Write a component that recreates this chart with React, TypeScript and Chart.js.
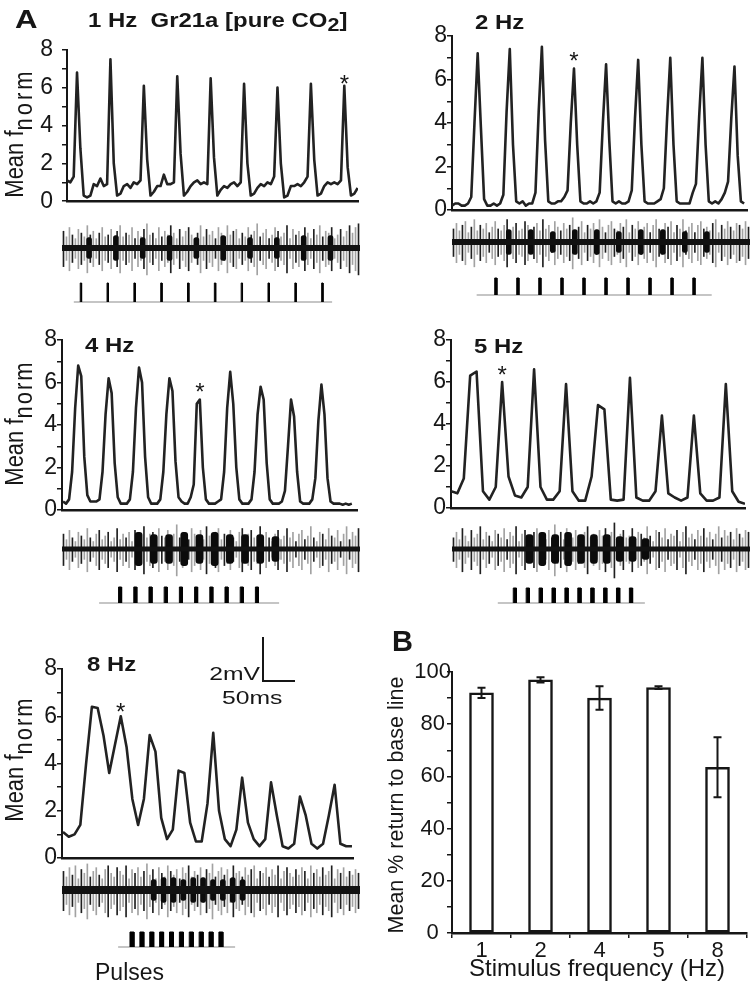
import React, { useEffect, useRef } from "react";
import { Chart, registerables } from "chart.js";

Chart.register(...registerables);

const FONT = "'Liberation Sans', Arial, Helvetica, sans-serif";
const INK = "#161616";

// ---------------- Panel A: mean f_norm traces (one value per bin) ----------------
const fnorm1Hz = [
  1.1, 1.0, 1.3, 6.8, 2.8, 0.3, 0.2, 0.3, 0.9, 0.8,
  1.2, 0.8, 0.9, 7.5, 2.0, 0.3, 0.4, 0.8, 0.9, 0.7,
  1.0, 0.9, 1.1, 6.1, 2.2, 0.3, 0.5, 0.8, 0.8, 1.4,
  0.9, 0.9, 1.0, 6.6, 2.5, 0.3, 0.5, 0.8, 1.0, 1.1,
  0.9, 1.0, 0.9, 6.5, 2.3, 0.3, 0.6, 0.8, 0.7, 0.9,
  1.0, 0.8, 1.0, 6.2, 2.0, 0.3, 0.4, 0.7, 0.9, 0.8,
  1.0, 0.9, 1.3, 6.0, 2.0, 0.2, 0.3, 0.8, 0.8, 0.9,
  0.8, 1.0, 1.3, 6.2, 2.2, 0.3, 0.4, 0.8, 1.0, 0.9,
  1.0, 0.9, 1.1, 6.1, 1.8, 0.3, 0.4, 0.7,
];
const fnorm2Hz = [
  0.2, 0.3, 0.3, 0.2, 0.2, 0.3, 0.6, 4.0, 7.2, 3.8,
  0.5, 0.2, 0.2, 0.3, 0.2, 0.3, 0.7, 4.5, 7.4, 3.0,
  0.4, 0.3, 0.4, 0.2, 0.3, 0.3, 0.8, 4.5, 7.5, 3.2,
  0.4, 0.3, 0.3, 0.4, 0.4, 0.6, 0.9, 4.0, 6.5, 3.0,
  0.4, 0.3, 0.3, 0.4, 0.3, 0.4, 0.8, 4.0, 6.7, 3.2,
  0.4, 0.3, 0.4, 0.3, 0.3, 0.4, 0.9, 4.2, 6.9, 3.0,
  0.4, 0.3, 0.3, 0.3, 0.4, 0.5, 1.0, 4.2, 7.0, 3.0,
  0.4, 0.3, 0.3, 0.3, 0.3, 0.8, 1.2, 4.3, 7.0, 3.0,
  0.4, 0.3, 0.4, 0.3, 0.5, 0.8, 1.3, 4.2, 6.6, 2.5,
  0.4, 0.3,
];
const fnorm4Hz = [
  0.4, 0.3, 0.5, 1.8, 4.8, 6.8, 6.3, 2.5, 0.7, 0.4,
  0.4, 0.4, 0.5, 1.8, 4.5, 6.2, 5.5, 2.2, 0.6, 0.3,
  0.3, 0.3, 0.5, 1.8, 4.8, 6.7, 6.0, 2.5, 0.6, 0.3,
  0.3, 0.3, 0.5, 1.8, 4.5, 6.2, 5.6, 2.3, 0.6, 0.4,
  0.3, 0.3, 0.6, 1.2, 5.0, 5.2, 2.0, 0.5, 0.3, 0.3,
  0.3, 0.4, 0.5, 1.8, 4.8, 6.5, 5.0, 2.0, 0.5, 0.3,
  0.3, 0.3, 0.5, 1.8, 4.5, 5.8, 5.2, 2.2, 0.5, 0.3,
  0.3, 0.3, 0.4, 0.9, 3.0, 5.2, 4.4, 1.8, 0.4, 0.3,
  0.3, 0.3, 0.5, 1.5, 4.2, 5.9, 4.5, 1.5, 0.4, 0.3,
  0.3, 0.3, 0.25, 0.3, 0.25, 0.3,
];
const fnorm5Hz = [
  0.8, 0.7, 1.4, 6.3, 6.5, 0.8, 0.4, 1.0, 6.0, 1.5,
  0.6, 0.5, 1.0, 6.6, 1.0, 0.4, 0.4, 0.8, 5.9, 0.8,
  0.35, 0.35, 1.5, 4.9, 4.7, 0.4, 0.35, 0.4, 6.2, 0.5,
  0.35, 0.35, 0.8, 4.4, 0.7, 0.5, 0.35, 0.5, 4.4, 0.7,
  0.35, 0.35, 0.5, 5.9, 0.8, 0.3, 0.2,
];
const fnorm8Hz = [
  1.1, 0.9, 1.0, 1.4, 4.0, 6.4, 6.35, 5.2, 3.6, 4.8,
  6.0, 4.7, 2.5, 1.4, 2.5, 5.2, 4.5, 1.7, 0.8, 1.2,
  3.7, 3.6, 1.5, 0.7, 0.7, 2.3, 5.3, 2.0, 0.8, 0.5,
  1.2, 3.4, 1.5, 0.8, 0.5, 0.8, 3.2, 1.8, 0.5, 0.4,
  0.6, 2.6, 1.8, 0.6, 0.4, 0.6, 1.8, 3.1, 0.6, 0.5,
  0.5,
];
// bin marked with an asterisk in each trace
const starBin1Hz = 83;
const starBin2Hz = 38;
const starBin4Hz = 45;
const starBin5Hz = 8;
const starBin8Hz = 10;
const fnormTickLabels = [0, 2, 4, 6, 8];

// ---------------- Stimulus pulses (onset, s) ----------------
const pulses1Hz = [0, 1, 2, 3, 4, 5, 6, 7, 8, 9];
const pulses2Hz = [0, 0.5, 1, 1.5, 2, 2.5, 3, 3.5, 4, 4.5];
const pulses4Hz = [0, 0.25, 0.5, 0.75, 1, 1.25, 1.5, 1.75, 2, 2.25];
const pulses5Hz = [0, 0.2, 0.4, 0.6, 0.8, 1.0, 1.2, 1.4, 1.6, 1.8];
const pulses8Hz = [0, 0.125, 0.25, 0.375, 0.5, 0.625, 0.75, 0.875, 1.0, 1.125];
const PULSE_DURATION = 0.05;
const pulseLine1Hz = [-0.24, 9.39];
const pulseLine2Hz = [-0.41, 4.93];
const pulseLine4Hz = [-0.32, 2.64];
const pulseLine5Hz = [-0.24, 2.04];
const pulseLine8Hz = [-0.15, 1.33];

// ---------------- Extracellular recordings (s window, spike sizes in 0.1 mV) ----------------
const recWin1Hz = [-0.68, 10.43];
const recWin2Hz = [-0.97, 5.8];
const recWin4Hz = [-0.93, 3.97];
const recWin5Hz = [-0.95, 3.67];
const recWin8Hz = [-0.86, 2.91];
const spikes1Hz = [
  9, 6, 11, 7, 5, 10, 8, 6, 12, 7, 9, 5, 8, 11, 6, 7, 10, 5, 9, 12,
  6, 8, 7, 11, 5, 9, 6, 10, 13, 7, 8, 5, 11, 6, 9, 7, 12, 8, 5, 10,
  6, 9, 11, 7, 5, 8, 12, 6, 10, 7, 9, 5, 11, 8, 6, 12, 7, 9, 10, 5,
  8, 6, 11, 7, 9, 13, 6, 8, 10, 5, 7, 11, 9, 6, 8, 12, 5, 10, 7, 9,
  6, 11, 8, 5, 10, 7, 12, 6, 9, 8, 11, 5, 7, 10, 6, 9, 12, 8, 11, 13,
];
const spikes2Hz = [
  7, 10, 6, 9, 11, 5, 8, 12, 6, 9, 7, 10, 5, 8, 11, 7, 6, 9, 12, 5,
  8, 10, 6, 7, 11, 9, 5, 8, 10, 6, 12, 7, 9, 5, 11, 8, 6, 10, 7, 9,
  13, 6, 8, 11, 5, 9, 7, 10, 6, 12, 8, 5, 9, 11, 7, 6, 10, 8, 12, 5,
  9, 7, 11, 6, 8, 10, 5, 9, 12, 7, 6, 10, 8, 11, 5, 9, 7, 12, 6, 8,
  10, 5, 9, 11, 7, 8, 6, 10, 12, 5, 9, 7, 11, 8, 6, 10, 9, 7, 11, 8,
];
const spikes4Hz = [
  8, 5, 10, 6, 4, 9, 7, 5, 11, 6, 4, 8, 10, 5, 7, 9, 4, 6, 11, 5,
  8, 6, 9, 4, 10, 7, 5, 12, 6, 8, 9, 5, 11, 7, 6, 10, 4, 8, 13, 6,
  9, 7, 5, 11, 8, 6, 10, 5, 12, 7, 6, 9, 11, 5, 8, 7, 10, 6, 4, 9,
  11, 5, 8, 10, 6, 7, 12, 5, 9, 6, 4, 8, 10, 5, 7, 11, 6, 9, 4, 8,
  10, 5, 7, 12, 6, 4, 9, 8, 5, 11, 7, 6, 10, 4, 8, 12, 5, 9, 7, 11,
];
const spikes5Hz = [
  6, 9, 5, 11, 7, 4, 10, 6, 8, 12, 5, 9, 7, 4, 10, 8, 6, 11, 5, 9,
  7, 12, 4, 8, 10, 6, 5, 9, 11, 7, 8, 5, 10, 6, 13, 7, 9, 5, 11, 8,
  6, 10, 7, 4, 9, 12, 6, 8, 5, 10, 7, 11, 6, 9, 14, 5, 8, 10, 6, 7,
  11, 5, 9, 8, 6, 12, 7, 4, 10, 9, 6, 11, 5, 8, 7, 10, 4, 9, 12, 6,
  8, 5, 10, 7, 11, 6, 9, 5, 8, 12, 6, 10, 7, 9, 5, 11, 8, 6, 10, 9,
];
const spikes8Hz = [
  10, 7, 12, 8, 13, 6, 11, 9, 14, 7, 10, 12, 8, 6, 11, 13, 9, 7, 12, 10,
  8, 13, 6, 11, 9, 12, 7, 10, 14, 8, 11, 6, 12, 9, 7, 13, 10, 8, 11, 6,
  12, 9, 13, 7, 10, 8, 12, 6, 11, 9, 14, 7, 10, 12, 8, 11, 6, 13, 9, 10,
  7, 12, 8, 11, 13, 6, 10, 9, 12, 7, 11, 8, 13, 6, 10, 12, 9, 7, 11, 8,
  12, 10, 6, 13, 9, 11, 7, 12, 8, 10, 13, 6, 11, 9, 12, 7, 10, 8, 11, 9,
];
// burst envelope after each pulse (0.1 mV) and response latency (s)
const bursts1Hz = [5, 6, 5, 6, 5, 6, 5, 5, 6, 6];
const bursts2Hz = [6, 6, 5, 6, 6, 5, 6, 6, 5, 5];
const bursts4Hz = [8, 7, 7, 8, 7, 8, 7, 7, 7, 6];
const bursts5Hz = [7, 8, 7, 8, 7, 7, 7, 6, 6, 5];
const bursts8Hz = [5, 6, 6, 5, 6, 6, 5, 5, 6, 5];
const latency1Hz = 0.33;
const latency2Hz = 0.32;
const latency4Hz = 0.33;
const latency5Hz = 0.25;
const latency8Hz = 0.3;

// ---------------- Panel B ----------------
const freqLabels = ["1", "2", "4", "5", "8"];
const returnMean = [92, 97, 90, 94, 63.5];
const returnErr = [2, 1, 4.5, 0.5, 11.5];
const returnTickLabels = [0, 20, 40, 60, 80, 100];

// ---------------- helpers ----------------
type Pad = { l: number; t: number; r: number; b: number };

function ChartBox(props: {
  l: number; t: number; r: number; b: number; yW?: number; xH?: number; pad: Pad;
  build: (yW: number, xH: number) => any;
}) {
  const { l, t, r, b, yW = 0, xH = 0, pad, build } = props;
  const ref = useRef<HTMLCanvasElement | null>(null);
  const left = l - yW - pad.l;
  const top = t - pad.t;
  const width = r - l + yW + pad.l + pad.r;
  const height = b - t + xH + pad.t + pad.b;
  useEffect(() => {
    if (!ref.current) return;
    const cfg = build(yW, xH);
    cfg.options = cfg.options || {};
    cfg.options.layout = { padding: { left: pad.l, top: pad.t, right: pad.r, bottom: pad.b } };
    cfg.options.animation = false;
    cfg.options.responsive = false;
    cfg.options.maintainAspectRatio = false;
    cfg.options.events = [];
    const chart = new Chart(ref.current, cfg);
    return () => chart.destroy();
  }, []);
  return (
    <canvas
      ref={ref}
      width={width}
      height={height}
      style={{ position: "absolute", left, top, width, height }}
    />
  );
}

function makeStarPlugin(index: number, lift: number) {
  return {
    id: "star",
    afterDatasetsDraw(chart: any) {
      const el = chart.getDatasetMeta(0).data[index];
      if (!el) return;
      const ctx = chart.ctx;
      const size = 24;
      ctx.save();
      ctx.fillStyle = INK;
      ctx.font = `${size}px ${FONT}`;
      ctx.textAlign = "center";
      ctx.textBaseline = "alphabetic";
      ctx.fillText("*", el.x, el.y - lift + 0.575 * size);
      ctx.restore();
    },
  };
}

function traceChart(values: number[], xMin: number, xMax: number, star: number, lift: number, tickPad: number) {
  return (yW: number) => ({
    type: "line",
    data: {
      datasets: [
        {
          data: values.map((v, i) => ({ x: i, y: v })),
          borderColor: "#222",
          borderWidth: 2.6,
          pointRadius: 0,
          tension: 0,
          borderJoinStyle: "round",
        },
      ],
    },
    options: {
      plugins: { legend: { display: false }, tooltip: { enabled: false } },
      scales: {
        x: {
          type: "linear",
          min: xMin,
          max: xMax,
          ticks: { display: false },
          grid: { display: false },
          border: { display: true, color: INK, width: 2.5 },
          afterFit: (s: any) => { s.height = 0; },
        },
        y: {
          type: "linear",
          min: 0,
          max: 8,
          ticks: {
            stepSize: 1,
            autoSkip: false,
            padding: tickPad,
            color: INK,
            font: { family: FONT, size: 23 },
            callback: (v: number) => (fnormTickLabels.includes(v) ? String(v) : ""),
          },
          grid: { drawOnChartArea: false, drawTicks: true, tickLength: 5, color: INK, lineWidth: 1.5 },
          border: { color: INK, width: 2 },
          afterFit: (s: any) => { s.width = yW; },
        },
      },
    },
    plugins: [makeStarPlugin(star, lift)],
  });
}

function ephysChart(win: number[], spikes: number[], pulses: number[], bursts: number[], lat: number, coreW: number, burstW: number) {
  return () => {
    const step = (win[1] - win[0]) / spikes.length;
    const spikeData = spikes.map((a, i) => ({ x: win[0] + (i + 0.5) * step, y: [-a / 10, (a / 10) * 0.9] }));
    const burstData = bursts.map((a, i) => ({ x: pulses[i] + lat, y: [-a / 10, a / 10] }));
    return {
      type: "bar",
      data: {
        datasets: [
          { type: "line", data: [{ x: win[0], y: 0 }, { x: win[1], y: 0 }], borderColor: "#111", borderWidth: coreW, pointRadius: 0 },
          { type: "bar", data: burstData, backgroundColor: "#0b0b0b", barThickness: burstW, borderRadius: 3, borderSkipped: false, grouped: false },
          {
            type: "bar",
            data: spikeData,
            backgroundColor: (c: any) => (c.dataIndex % 3 === 0 ? "#202020" : "#a2a2a2"),
            barThickness: 1,
            grouped: false,
          },
        ],
      },
      options: {
        plugins: { legend: { display: false }, tooltip: { enabled: false } },
        scales: {
          x: { type: "linear", display: false, min: win[0], max: win[1], offset: false },
          y: { type: "linear", display: false, min: -1.45, max: 1.45 },
        },
      },
    };
  };
}

function pulseChart(win: number[], pulses: number[], line: number[]) {
  return () => {
    const wave: any[] = [];
    pulses.forEach((t) => {
      wave.push(
        { x: t, y: 0 },
        { x: t, y: 1 },
        { x: t + PULSE_DURATION, y: 1 },
        { x: t + PULSE_DURATION, y: 0 },
        { x: t + PULSE_DURATION, y: null }
      );
    });
    return {
      type: "line",
      data: {
        datasets: [
          { data: wave, borderColor: "#000", backgroundColor: "#000", borderWidth: 1, pointRadius: 0, fill: "origin", spanGaps: false, clip: false },
          { data: [{ x: line[0], y: 0 }, { x: line[1], y: 0 }], borderColor: "#8c8c8c", borderWidth: 1.2, pointRadius: 0, clip: false },
        ],
      },
      options: {
        plugins: { legend: { display: false }, tooltip: { enabled: false } },
        scales: {
          x: { type: "linear", display: false, min: win[0], max: win[1] },
          y: { type: "linear", display: false, min: 0, max: 1 },
        },
      },
    };
  };
}

function makeErrPlugin(mean: number[], err: number[]) {
  return {
    id: "errbars",
    afterDatasetsDraw(chart: any) {
      const meta = chart.getDatasetMeta(0);
      const y = chart.scales.y;
      const ctx = chart.ctx;
      ctx.save();
      ctx.strokeStyle = INK;
      ctx.lineWidth = 2;
      meta.data.forEach((bar: any, i: number) => {
        const top = y.getPixelForValue(mean[i] + err[i]);
        const bot = y.getPixelForValue(mean[i] - err[i]);
        ctx.beginPath();
        ctx.moveTo(bar.x, top);
        ctx.lineTo(bar.x, bot);
        ctx.moveTo(bar.x - 4, top);
        ctx.lineTo(bar.x + 4, top);
        ctx.moveTo(bar.x - 4, bot);
        ctx.lineTo(bar.x + 4, bot);
        ctx.stroke();
      });
      ctx.restore();
    },
  };
}

function barChart() {
  return (yW: number, xH: number) => ({
    type: "bar",
    data: {
      labels: freqLabels,
      datasets: [
        {
          data: returnMean,
          backgroundColor: "#fff",
          borderColor: INK,
          borderWidth: 2.5,
          borderSkipped: false,
          barThickness: 24,
        },
      ],
    },
    options: {
      plugins: { legend: { display: false }, tooltip: { enabled: false } },
      scales: {
        x: {
          grid: { offset: true, drawOnChartArea: false, drawTicks: true, tickLength: 5, color: INK, lineWidth: 1.5 },
          border: { color: INK, width: 2.5 },
          ticks: { color: INK, font: { family: FONT, size: 22 }, padding: 0 },
          afterFit: (s: any) => { s.height = xH; },
        },
        y: {
          min: 0,
          max: 100,
          ticks: {
            stepSize: 10,
            autoSkip: false,
            crossAlign: "center",
            padding: -4,
            color: INK,
            font: { family: FONT, size: 22 },
            callback: (v: number) => (returnTickLabels.includes(v) ? String(v) : ""),
          },
          grid: { drawOnChartArea: false, drawTicks: true, tickLength: 5, color: INK, lineWidth: 1.5 },
          border: { color: INK, width: 2 },
          afterFit: (s: any) => { s.width = yW; },
        },
      },
    },
    plugins: [makeErrPlugin(returnMean, returnErr)],
  });
}

function Txt(props: { x: number; cy: number; size: number; bold?: boolean; sx?: number; anchor?: string; children: any }) {
  const { x, cy, size, bold = false, sx = 1, anchor = "left", children } = props;
  const tx = anchor === "left" ? "0" : anchor === "right" ? "-100%" : "-50%";
  const origin = anchor === "left" ? "left center" : anchor === "right" ? "right center" : "center center";
  return (
    <div
      style={{
        position: "absolute",
        left: x,
        top: cy - size / 2,
        fontFamily: FONT,
        fontSize: size,
        fontWeight: bold ? 700 : 400,
        lineHeight: 1,
        whiteSpace: "nowrap",
        color: INK,
        transform: `translateX(${tx}) scaleX(${sx})`,
        transformOrigin: origin,
      }}
    >
      {children}
    </div>
  );
}

function VLabel(props: { cx: number; cy: number; size: number; sy?: number; children: any }) {
  const { cx, cy, size, sy = 1, children } = props;
  return (
    <div
      style={{
        position: "absolute",
        left: cx,
        top: cy,
        fontFamily: FONT,
        fontSize: size,
        lineHeight: 1,
        whiteSpace: "nowrap",
        color: INK,
        transform: `translate(-50%, -50%) rotate(-90deg) scaleY(${sy})`,
      }}
    >
      {children}
    </div>
  );
}

function FnormLabel(props: { cx: number; cy: number; spacing: number }) {
  return (
    <VLabel cx={props.cx} cy={props.cy} size={22} sy={1.2}>
      Mean f
      <span style={{ fontSize: "1em", position: "relative", top: "0.3em", letterSpacing: props.spacing }}>norm</span>
    </VLabel>
  );
}

const padTrace: Pad = { l: 4, t: 16, r: 3, b: 16 };
const padEphys: Pad = { l: 0, t: 0, r: 0, b: 0 };
const padPulse: Pad = { l: 0, t: 2, r: 0, b: 2 };

export default function App() {
  return (
    <div style={{ position: "absolute", left: 0, top: 0, width: 750, height: 1005, background: "#fff", overflow: "hidden" }}>
      {/* 1 Hz */}
      <ChartBox l={67} t={43} r={358} b={208} yW={30} pad={padTrace} build={traceChart(fnorm1Hz, 0, 87.1, starBin1Hz, 8, 9)} />
      <ChartBox l={62} t={218} r={360} b={278} pad={padEphys} build={ephysChart(recWin1Hz, spikes1Hz, pulses1Hz, bursts1Hz, latency1Hz, 6, 5)} />
      <ChartBox l={62} t={283} r={360} b={302} pad={padPulse} build={pulseChart(recWin1Hz, pulses1Hz, pulseLine1Hz)} />

      {/* 2 Hz */}
      <ChartBox l={452} t={36} r={747} b={210} yW={22} pad={padTrace} build={traceChart(fnorm2Hz, 0, 91.9, starBin2Hz, 13.6, 0)} />
      <ChartBox l={452} t={212} r={750} b={272} pad={padEphys} build={ephysChart(recWin2Hz, spikes2Hz, pulses2Hz, bursts2Hz, latency2Hz, 6, 5)} />
      <ChartBox l={452} t={278} r={750} b={295} pad={padPulse} build={pulseChart(recWin2Hz, pulses2Hz, pulseLine2Hz)} />

      {/* 4 Hz */}
      <ChartBox l={62} t={340} r={357} b={510} yW={22} pad={padTrace} build={traceChart(fnorm4Hz, -0.33, 96.7, starBin4Hz, 13.5, 0)} />
      <ChartBox l={62} t={519} r={360} b={579} pad={padEphys} build={ephysChart(recWin4Hz, spikes4Hz, pulses4Hz, bursts4Hz, latency4Hz, 5, 7)} />
      <ChartBox l={62} t={587} r={360} b={603} pad={padPulse} build={pulseChart(recWin4Hz, pulses4Hz, pulseLine4Hz)} />

      {/* 5 Hz */}
      <ChartBox l={451} t={340} r={745} b={508} yW={22} pad={padTrace} build={traceChart(fnorm5Hz, 0, 46, starBin5Hz, 13, 0)} />
      <ChartBox l={452} t={519} r={750} b={579} pad={padEphys} build={ephysChart(recWin5Hz, spikes5Hz, pulses5Hz, bursts5Hz, latency5Hz, 5, 7)} />
      <ChartBox l={452} t={588} r={750} b={603} pad={padPulse} build={pulseChart(recWin5Hz, pulses5Hz, pulseLine5Hz)} />

      {/* 8 Hz */}
      <ChartBox l={62} t={669} r={353} b={858} yW={22} pad={padTrace} build={traceChart(fnorm8Hz, -0.17, 50.18, starBin8Hz, 10, 0)} />
      <ChartBox l={62} t={860} r={360} b={920} pad={padEphys} build={ephysChart(recWin8Hz, spikes8Hz, pulses8Hz, bursts8Hz, latency8Hz, 8, 5)} />
      <ChartBox l={62} t={932} r={360} b={947} pad={padPulse} build={pulseChart(recWin8Hz, pulses8Hz, pulseLine8Hz)} />

      {/* B */}
      <ChartBox l={452} t={672} r={747} b={933} yW={48} xH={30} pad={{ l: 8, t: 16, r: 3, b: 2 }} build={barChart()} />

      {/* texts */}
      <Txt x={15} cy={19} size={26} bold sx={1.2}>A</Txt>
      <Txt x={88} cy={19} size={21} bold sx={1.14}>
        1 Hz&nbsp;&nbsp;Gr21a [pure CO<span style={{ fontSize: "0.9em", position: "relative", top: "0.25em" }}>2</span>]
      </Txt>
      <Txt x={475} cy={21} size={21} bold sx={1.14}>2 Hz</Txt>
      <Txt x={85} cy={344} size={21} bold sx={1.14}>4 Hz</Txt>
      <Txt x={474} cy={345} size={21} bold sx={1.14}>5 Hz</Txt>
      <Txt x={87} cy={663} size={21} bold sx={1.14}>8 Hz</Txt>
      <Txt x={392} cy={641} size={29} bold>B</Txt>

      <FnormLabel cx={15} cy={133} spacing={3} />
      <FnormLabel cx={15} cy={423} spacing={2} />
      <FnormLabel cx={15} cy={759} spacing={2} />
      <VLabel cx={397} cy={805} size={21.5}>Mean % return to base line</VLabel>
      <Txt x={597} cy={968} size={24} anchor="center">Stimulus frequency (Hz)</Txt>

      {/* scale bar */}
      <div style={{ position: "absolute", left: 262, top: 637, width: 2, height: 45, background: INK }} />
      <div style={{ position: "absolute", left: 262, top: 680, width: 33, height: 2, background: INK }} />
      <Txt x={260} cy={673} size={19} sx={1.3} anchor="right">2mV</Txt>
      <Txt x={222} cy={697} size={19} sx={1.3}>50ms</Txt>
      <Txt x={95} cy={972} size={23}>Pulses</Txt>
    </div>
  );
}
